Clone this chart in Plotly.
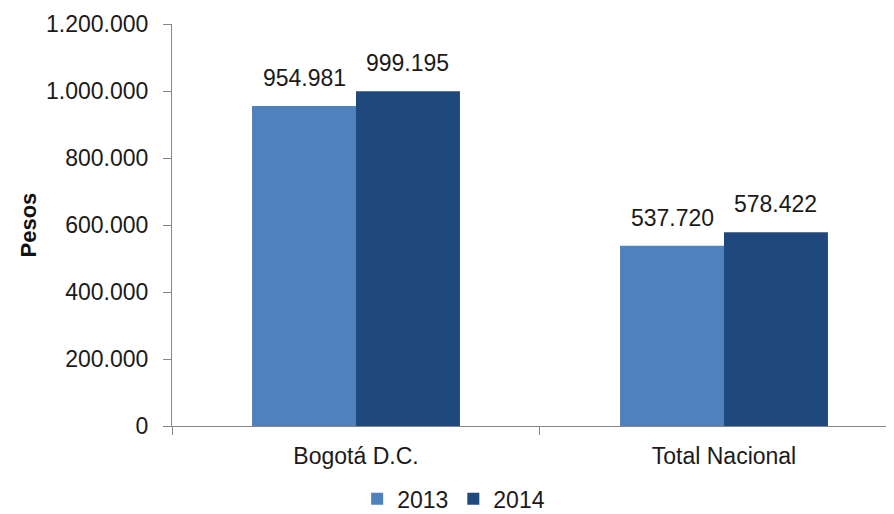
import plotly.graph_objects as go

categories = ["Bogotá D.C.", "Total Nacional"]
series_names = ["2013", "2014"]
values_2013 = [954981, 537720]
values_2014 = [999195, 578422]
colors = ["#4F81BD", "#1F497D"]
y_ticks = [0, 200000, 400000, 600000, 800000, 1000000, 1200000]

FONT = "Liberation Sans, Arial"
BARGAP = 0.435
cat_pos = list(range(len(categories)))

fig = go.Figure()
n = len(series_names)
bar_w = (1 - BARGAP) / n
annotations = []
for k, (name, vals, col) in enumerate(zip(series_names, [values_2013, values_2014], colors)):
    fig.add_trace(go.Bar(
        x=cat_pos, y=vals, name=name, marker_color=col,
        marker_line_width=0,
    ))
    off = (k - (n - 1) / 2) * bar_w
    for xi, v in zip(cat_pos, vals):
        annotations.append(dict(
            x=xi + off, y=v, xref="x", yref="y",
            text=f"{v:,}".replace(",", "."), showarrow=False,
            yanchor="middle", yshift=28,
            font=dict(size=23, color="#1a1a1a", family=FONT),
        ))

annotations.append(dict(text="<b>Pesos</b>", xref="paper", yref="paper",
                        x=(5 - 164) / 722, y=0.5, textangle=-90, showarrow=False,
                        font=dict(size=22, color="#111111", family=FONT)))

fig.update_layout(
    width=886, height=506,
    margin=dict(l=164, r=0, t=16, b=88),
    paper_bgcolor="white", plot_bgcolor="white",
    separators=",.",
    barmode="group", bargap=BARGAP, bargroupgap=0,
    font=dict(family=FONT, size=23, color="#1a1a1a"),
    showlegend=True,
    legend=dict(orientation="h", xref="container", yref="container",
                x=0.503, y=0.03, xanchor="center", yanchor="middle",
                font=dict(size=23), itemwidth=30, tracegroupgap=0),
    xaxis=dict(range=[-0.5, 1.462], tickvals=cat_pos, ticktext=categories,
               showline=True, linecolor="#868686", linewidth=1,
               ticks="", showgrid=False, zeroline=False,
               tickfont=dict(size=23), ticklabelstandoff=9),
    xaxis2=dict(overlaying="x", range=[-0.5, 1.462], tickvals=[-0.5, 0.5, 1.5],
                ticks="outside", ticklen=8, tickcolor="#868686", showticklabels=False,
                showline=False, showgrid=False, zeroline=False, side="bottom", matches=None),
    yaxis=dict(range=[0, 1200000], tickvals=y_ticks, tickformat=",.0f",
               showline=True, linecolor="#868686", linewidth=1,
               ticks="outside", ticklen=8, tickcolor="#868686",
               tickfont=dict(size=23), showgrid=False, zeroline=False,
               ticklabelstandoff=10),
    annotations=annotations,
)
fig.add_trace(go.Scatter(x=[-0.5], y=[0], xaxis="x2", mode="markers",
                         marker=dict(opacity=0), showlegend=False, hoverinfo="skip"))

fig.write_html("out.html")
